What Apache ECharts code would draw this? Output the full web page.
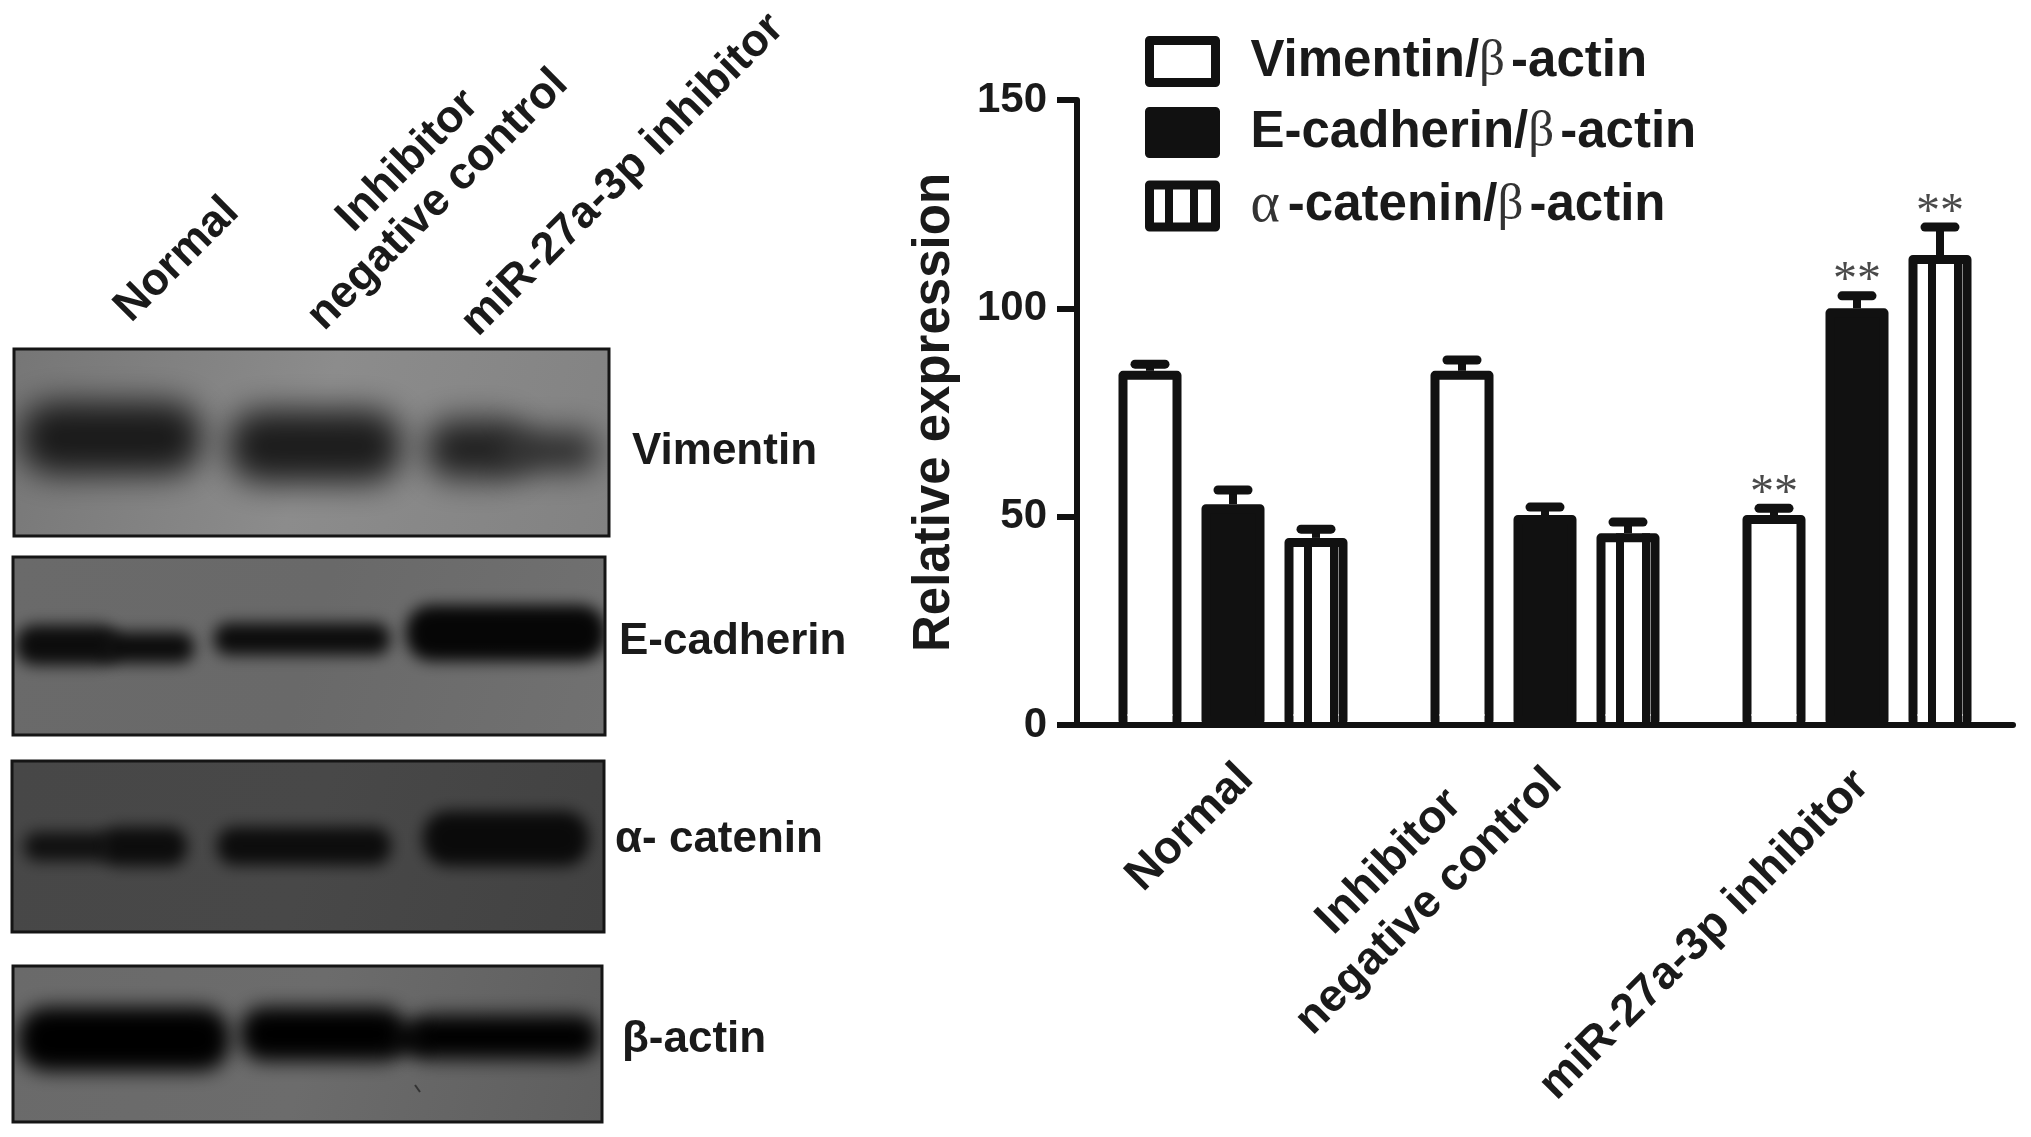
<!DOCTYPE html>
<html><head><meta charset="utf-8">
<style>html,body{margin:0;padding:0;background:#fff}#c{width:2031px;height:1137px}</style>
<script src="https://cdn.jsdelivr.net/npm/echarts@6/dist/echarts.min.js"></script>
</head><body><div id="c"></div>
<script>
// ---- data ----
const categories = ['Normal', 'Inhibitor\nnegative control', 'miR-27a-3p inhibitor'];
const seriesNames = ['Vimentin/β-actin', 'E-cadherin/β-actin', 'α-catenin/β-actin'];
const vimentin = [85, 85, 50.4];
const ecadherin = [53, 50.4, 100];
const acatenin = [44.9, 46, 112.8];
const vimentinUpper = [86.6, 87.6, 52];
const ecadherinUpper = [56.4, 52.3, 103];
const acateninUpper = [47, 48.7, 119.5];
const vimentinStars = [0, 0, 1];
const ecadherinStars = [0, 0, 1];
const acateninStars = [0, 0, 1];
const yTicks = [0, 50, 100, 150];

// ---- style ----
const INK = '#111';
const SANS = '"Liberation Sans", Arial, sans-serif';
const SERIF = '"Liberation Serif", "Times New Roman", serif';
const BAR_W = 63, BAR_PITCH = 83, STROKE = 9;
const STRIPE_OFFSETS = [-8, 18];

// western-blot panels are a picture in the source: painted here as gradients and soft shadows
const panels = [
 {b:[14,349,609,536], bg:['#767676','#8c8c8c','#828282'], label:'Vimentin', lx:632, ly:452, lf:44, blur:32, bands:[
   [20,402,202,474,'#1a1a1a'],[228,410,402,482,'#1c1c1c'],[426,420,526,478,'#202020'],[500,432,598,470,'#262626']]},
 {b:[13,557,605,735], bg:['#6a6a6a','#696969','#717171'], label:'E-cadherin', lx:619, ly:642, lf:44, blur:15, bands:[
   [16,625,118,665,'#0c0c0c'],[100,632,194,663,'#0c0c0c'],[214,623,390,655,'#0c0c0c'],[406,605,606,661,'#060606']]},
 {b:[12,761,604,932], bg:['#474747','#484848','#424242'], label:'α- catenin', lx:615, ly:840, lf:44, blur:15, bands:[
   [24,832,112,861,'#101010'],[100,827,187,866,'#0c0c0c'],[217,827,391,865,'#0c0c0c'],[423,811,589,866,'#0a0a0a']]},
 {b:[13,966,602,1122], bg:['#6a6a6a','#6c6c6c','#5e5e5e'], label:'β-actin', lx:622, ly:1040, lf:44, blur:19, bands:[
   [18,1007,230,1071,'#000'],[240,1007,406,1061,'#000'],[408,1015,598,1059,'#000'],[385,1027,430,1051,'#000']]}
];
const topLabels = [
 {t:'Normal', x:177, y:260},
 {t:'Inhibitor', x:408, y:161},
 {t:'negative control', x:438, y:200},
 {t:'miR-27a-3p inhibitor', x:623, y:175}
];

const gfx = [];
panels.forEach(p => {
  const [x0,y0,x1,y1] = p.b;
  gfx.push({type:'rect', shape:{x:x0,y:y0,width:x1-x0,height:y1-y0}, silent:true,
    style:{fill:{type:'linear',x:0,y:0,x2:1,y2:1,colorStops:[{offset:0,color:p.bg[0]},{offset:.5,color:p.bg[1]},{offset:1,color:p.bg[2]}]}}});
  p.bands.forEach(b => {
    // only the shadow lands on the panel, so the band has no hard edge
    gfx.push({type:'rect', silent:true, shape:{x:b[0]-4000,y:b[1],width:b[2]-b[0],height:b[3]-b[1],r:(b[3]-b[1])/2.2},
      style:{fill:b[4],shadowColor:b[4],shadowBlur:p.blur,shadowOffsetX:4000,shadowOffsetY:0}});
  });
});
// white gutters trim the soft bands at the panel edges
panels.forEach(p => {
  const [x0,y0,x1,y1] = p.b;
  const m = 60;
  [[x0-m,y0-12,m,y1-y0+24],[x1,y0-12,m,y1-y0+24],[x0,y0-12,x1-x0,12],[x0,y1,x1-x0,12]].forEach(r =>
    gfx.push({type:'rect',silent:true,shape:{x:r[0],y:r[1],width:r[2],height:r[3]},style:{fill:'#fff'}}));
});
panels.forEach(p => {
  const [x0,y0,x1,y1] = p.b;
  gfx.push({type:'rect',silent:true,shape:{x:x0,y:y0,width:x1-x0,height:y1-y0},style:{fill:'none',stroke:'#151515',lineWidth:3}});
  gfx.push({type:'text',silent:true,x:p.lx,y:p.ly,style:{text:p.label,fill:'#1a1a1a',font:`bold ${p.lf}px ${SANS}`,textAlign:'left',textVerticalAlign:'middle'}});
});
gfx.push({type:'line',silent:true,shape:{x1:415,y1:1085,x2:420,y2:1092},style:{stroke:'#333',lineWidth:2}});
topLabels.forEach(l => gfx.push({type:'text',silent:true,x:l.x,y:l.y,rotation:Math.PI/4,
  style:{text:l.t,fill:'#1a1a1a',font:`bold 45px ${SANS}`,textAlign:'center',textVerticalAlign:'middle'}}));
// stripes in the third legend swatch
[1165,1190].forEach(x => gfx.push({type:'rect',silent:true,z:20,shape:{x:x,y:185,width:8,height:42},style:{fill:INK}}));

const values = [vimentin, ecadherin, acatenin];
const uppers = [vimentinUpper, ecadherinUpper, acateninUpper];
const stars = [vimentinStars, ecadherinStars, acateninStars];
const overlay = [];
values.forEach((arr,s) => arr.forEach((v,c) => overlay.push([c,s,v,uppers[s][c],stars[s][c]])));

function renderOverlay(params, api){
  const c=api.value(0), s=api.value(1), v=api.value(2), hi=api.value(3), star=api.value(4);
  const p=api.coord([c,v]), cx=p[0]+(s-1)*BAR_PITCH, top=p[1];
  const cap=api.coord([c,hi])[1], zero=api.coord([c,0])[1];
  const kids=[];
  // the reference bars are open at the bottom, standing on the axis
  if(s!==1) kids.push({type:'rect',shape:{x:cx-BAR_W/2+STROKE,y:zero-STROKE-2,width:BAR_W-2*STROKE,height:STROKE-1},style:{fill:'#fff'}});
  if(s===2) STRIPE_OFFSETS.forEach(o=>kids.push({type:'rect',shape:{x:cx+o-4,y:top,width:8,height:zero-top},style:{fill:INK}}));
  kids.push({type:'line',shape:{x1:cx,y1:top,x2:cx,y2:cap},style:{stroke:INK,lineWidth:8}});
  kids.push({type:'line',shape:{x1:cx-15,y1:cap,x2:cx+15,y2:cap},style:{stroke:INK,lineWidth:9,lineCap:'round'}});
  if(star) kids.push({type:'text',x:cx,y:cap-14,style:{text:'**',fill:'#4a4a4a',font:`48px ${SERIF}`,textAlign:'center',textVerticalAlign:'middle'}});
  return {type:'group',children:kids};
}

const labelRich = {
  color:'#1a1a1a', fontFamily:SANS, fontWeight:'bold', fontSize:46
};
const barBase = {type:'bar', barWidth:BAR_W, barGap:((BAR_PITCH-BAR_W)/BAR_W*100)+'%', silent:true};
const chart = echarts.init(document.getElementById('c'), null, {renderer:'canvas'});
chart.setOption({
  animation:false,
  backgroundColor:'#fff',
  grid:{left:1077, top:100, width:936, height:625, containLabel:false},
  legend:{
    orient:'vertical', left:1140, top:31, itemWidth:66, itemHeight:42, itemGap:20, icon:'rect',
    data:seriesNames, selectedMode:false,
    itemStyle:{borderWidth:9, borderColor:INK, borderJoin:'round'},
    formatter:n=>n.replace(/β/g,'{g|β}').replace(/α/g,'{h|α}'),
    textStyle:{color:'#1a1a1a', fontFamily:SANS, fontWeight:'bold', fontSize:51, lineHeight:50, padding:[0,0,0,30],
      rich:{
        g:{fontFamily:SERIF, fontWeight:'normal', fontSize:51, lineHeight:50, color:'#333', padding:[0,6,0,0]},
        h:{fontFamily:SERIF, fontWeight:'normal', fontSize:56, lineHeight:50, color:'#333', padding:[0,8,0,0]}
      }}
  },
  xAxis:{type:'category', data:categories,
    axisLine:{lineStyle:{color:INK,width:6}},
    axisTick:{alignWithLabel:true,length:20,lineStyle:{color:INK,width:5}},
    axisLabel:{rotate:45, interval:0, margin:21, color:'#1a1a1a', fontFamily:SANS, fontWeight:'bold', fontSize:46, lineHeight:56,
      formatter:(v,i)=> i===1 ? v.split('\n').map(t=>'{c|'+t+'}').join('\n') : (i===0 ? '{a|'+v+'}' : '{b|'+v+'}'),
      rich:{
        a:{...labelRich, padding:[55,9,0,0]},
        b:{...labelRich, padding:[52,19,0,0]},
        c:{...labelRich, lineHeight:56, width:372, align:'center', padding:[0,6,0,0]}
      }}
  },
  yAxis:{type:'value', min:0, max:150, interval:50, splitLine:{show:false},
    name:'Relative expression', nameLocation:'middle', nameGap:117, nameRotate:90,
    nameTextStyle:{color:'#1a1a1a', fontFamily:SANS, fontWeight:'bold', fontSize:51},
    axisLine:{show:true,lineStyle:{color:INK,width:6}},
    axisTick:{show:true,length:20,lineStyle:{color:INK,width:6}},
    axisLabel:{margin:30,color:'#1a1a1a',fontFamily:SANS,fontWeight:'bold',fontSize:42,
      customValues:yTicks}
  },
  series:[
    {...barBase,name:seriesNames[0],data:vimentin,itemStyle:{color:'#fff',borderColor:INK,borderWidth:STROKE,borderJoin:'round'}},
    {...barBase,name:seriesNames[1],data:ecadherin,itemStyle:{color:INK,borderColor:INK,borderWidth:STROKE,borderJoin:'round'}},
    {...barBase,name:seriesNames[2],data:acatenin,itemStyle:{color:'#fff',borderColor:INK,borderWidth:STROKE,borderJoin:'round'}},
    {type:'custom',name:'overlay',data:overlay,renderItem:renderOverlay,encode:{x:0,y:3},silent:true,clip:false,z:5}
  ],
  graphic:{elements:gfx}
});
</script></body></html>
